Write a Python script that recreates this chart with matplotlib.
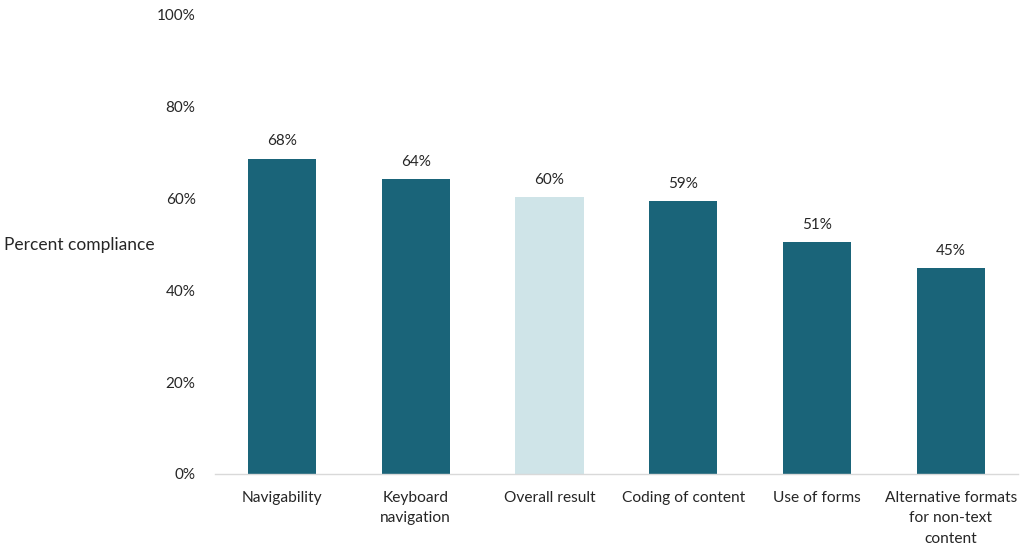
import matplotlib
matplotlib.use("Agg")
import matplotlib.pyplot as plt

categories = ["Navigability", "Keyboard\nnavigation", "Overall result", "Coding of content",
              "Use of forms", "Alternative formats\nfor non-text\ncontent"]
values = [68.6, 64.1, 60.2, 59.3, 50.5, 44.8]
value_labels = ["68%", "64%", "60%", "59%", "51%", "45%"]
colors = ["#1A6479", "#1A6479", "#CFE4E8", "#1A6479", "#1A6479", "#1A6479"]
yticks = [0, 20, 40, 60, 80, 100]
ytick_labels = ["0%", "20%", "40%", "60%", "80%", "100%"]

plt.rcParams['font.family'] = ['Lato', 'DejaVu Sans']

fig = plt.figure(figsize=(10.24, 5.47), dpi=100)
ax = fig.add_axes([0.21, 0.1335, 0.784, 0.8405])

x = list(range(len(categories)))
bars = ax.bar(x, values, width=0.51, color=colors)
for xi, v, lab in zip(x, values, value_labels):
    ax.text(xi, v + 2.2, lab, ha="center", va="bottom", fontsize=11, color="#262626")

ax.set_xlim(-0.5, len(categories) - 0.5)
ax.set_ylim(0, 100)
ax.set_yticks(yticks)
ax.set_yticklabels(ytick_labels, fontsize=11, color="#262626")
ax.set_xticks(x)
ax.set_xticklabels(categories, fontsize=11.2, color="#262626", linespacing=1.6)
ax.tick_params(axis="both", length=0)
ax.tick_params(axis="y", pad=14)
ax.tick_params(axis="x", pad=12)
for s in ["top", "right", "left"]:
    ax.spines[s].set_visible(False)
ax.spines["bottom"].set_color("#D9D9D9")
ax.spines["bottom"].set_linewidth(1)

fig.text(0.004, 1 - 245 / 547, "Percent compliance", ha="left", va="center",
         fontsize=12.5, color="#262626")

fig.savefig("out.png", dpi=100)
